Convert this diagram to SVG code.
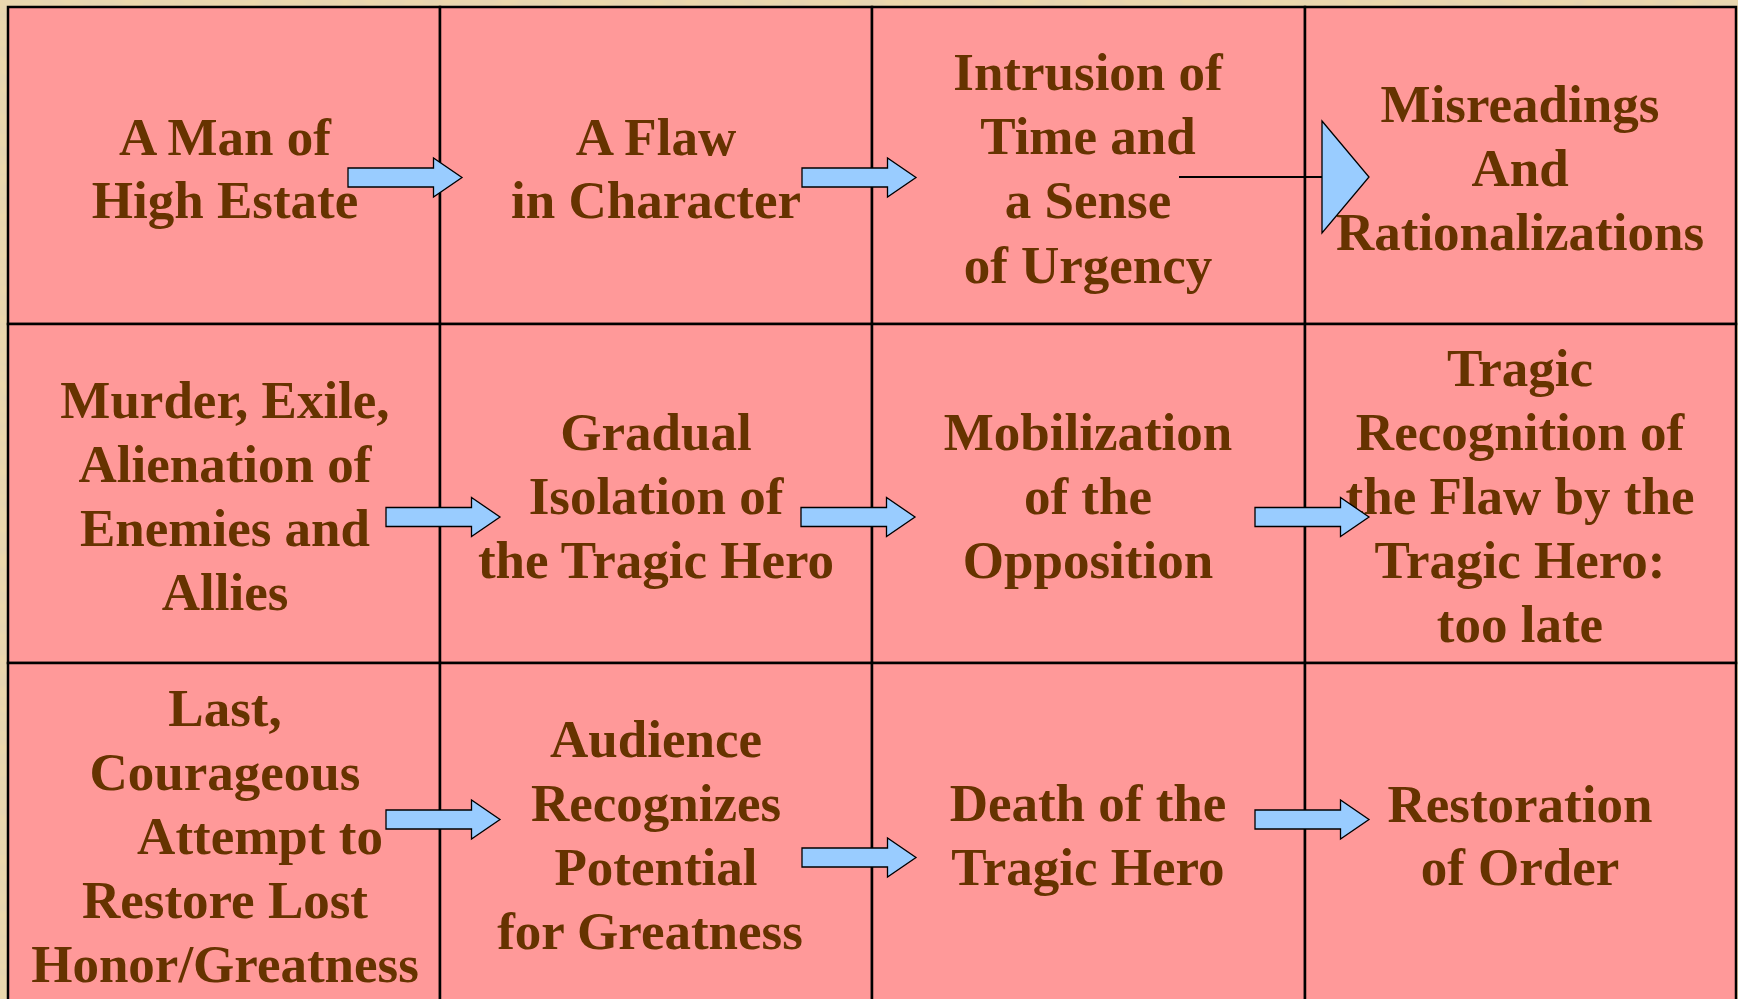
<svg xmlns="http://www.w3.org/2000/svg" xmlns:xlink="http://www.w3.org/1999/xlink" width="1738" height="999" viewBox="0 0 1738 999">
<style>
.cell{fill:#FF9999;stroke:#000;stroke-width:2.5}
.t{font-family:"Liberation Serif","Times New Roman",serif;font-weight:bold;font-size:53px;fill:#663300;text-anchor:middle}
.arr{fill:#99CCFF;stroke:#000;stroke-width:1.3;stroke-linejoin:miter}
.ln{stroke:#000;stroke-width:2;fill:none}
</style>
<defs>
<filter id="paper" x="0" y="0" width="100%" height="100%">
<feTurbulence type="fractalNoise" baseFrequency="0.05 0.09" numOctaves="3" seed="3" result="n"/>
<feColorMatrix in="n" type="matrix" values="0 0 0 0 0.78  0 0 0 0 0.66  0 0 0 0 0.45  0 0 0 1.6 -0.45"/>
</filter>
<path id="blk" d="M0,-9.5 H85.5 V-19.5 L114,0 L85.5,19.5 V9.5 H0 Z"/>
</defs>
<rect x="0" y="0" width="1738" height="999" fill="#ECD8AC"/>
<rect x="0" y="0" width="1738" height="999" filter="url(#paper)"/>

<g id="n1"><rect class="cell" x="8" y="7" width="432" height="317"/>
<text class="t" x="225" y="155">A Man of</text><text class="t" x="225" y="218">High Estate</text></g>
<g id="n2"><rect class="cell" x="440" y="7" width="432" height="317"/>
<text class="t" x="656" y="155">A Flaw</text><text class="t" x="656" y="218">in Character</text></g>
<g id="n3"><rect class="cell" x="872" y="7" width="433" height="317"/>
<text class="t" x="1088" y="90">Intrusion of</text><text class="t" x="1088" y="154">Time and</text><text class="t" x="1088" y="218">a Sense</text><text class="t" x="1088" y="283">of Urgency</text></g>
<g id="n4"><rect class="cell" x="1305" y="7" width="431" height="317"/>
<text class="t" x="1520" y="122">Misreadings</text><text class="t" x="1520" y="186">And</text><text class="t" x="1520" y="250">Rationalizations</text></g>

<g id="n5"><rect class="cell" x="8" y="324" width="432" height="339"/>
<text class="t" x="225" y="418">Murder, Exile,</text><text class="t" x="225" y="482">Alienation of</text><text class="t" x="225" y="546">Enemies and</text><text class="t" x="225" y="610">Allies</text></g>
<g id="n6"><rect class="cell" x="440" y="324" width="432" height="339"/>
<text class="t" x="656" y="450">Gradual</text><text class="t" x="656" y="514">Isolation of</text><text class="t" x="656" y="578">the Tragic Hero</text></g>
<g id="n7"><rect class="cell" x="872" y="324" width="433" height="339"/>
<text class="t" x="1088" y="450">Mobilization</text><text class="t" x="1088" y="514">of the</text><text class="t" x="1088" y="578">Opposition</text></g>
<g id="n8"><rect class="cell" x="1305" y="324" width="431" height="339"/>
<text class="t" x="1520" y="386">Tragic</text><text class="t" x="1520" y="450">Recognition of</text><text class="t" x="1520" y="514">the Flaw by the</text><text class="t" x="1520" y="578">Tragic Hero:</text><text class="t" x="1520" y="642">too late</text></g>

<g id="n9"><rect class="cell" x="8" y="663" width="432" height="350"/>
<text class="t" x="225" y="726">Last,</text><text class="t" x="225" y="790">Courageous</text><text class="t" x="260" y="854">Attempt to</text><text class="t" x="225" y="918">Restore Lost</text><text class="t" x="225" y="982">Honor/Greatness</text></g>
<g id="n10"><rect class="cell" x="440" y="663" width="432" height="350"/>
<text class="t" x="656" y="757">Audience</text><text class="t" x="656" y="821">Recognizes</text><text class="t" x="656" y="885">Potential</text><text class="t" x="650" y="949">for Greatness</text></g>
<g id="n11"><rect class="cell" x="872" y="663" width="433" height="350"/>
<text class="t" x="1088" y="821">Death of the</text><text class="t" x="1088" y="885">Tragic Hero</text></g>
<g id="n12"><rect class="cell" x="1305" y="663" width="431" height="350"/>
<text class="t" x="1520" y="822">Restoration</text><text class="t" x="1520" y="885">of Order</text></g>

<g id="connectors">
<use xlink:href="#blk" href="#blk" class="arr" x="348" y="177.5"/>
<use xlink:href="#blk" href="#blk" class="arr" x="802" y="177.5"/>
<line class="ln" x1="1179" y1="177" x2="1322" y2="177"/>
<polygon class="arr" points="1322,121 1369,177 1322,233"/>
<use xlink:href="#blk" href="#blk" class="arr" x="386" y="517"/>
<use xlink:href="#blk" href="#blk" class="arr" x="801" y="517"/>
<use xlink:href="#blk" href="#blk" class="arr" x="1255" y="517"/>
<use xlink:href="#blk" href="#blk" class="arr" x="386" y="819.5"/>
<use xlink:href="#blk" href="#blk" class="arr" x="802" y="857.5"/>
<use xlink:href="#blk" href="#blk" class="arr" x="1255" y="819.5"/>
</g>
</svg>
